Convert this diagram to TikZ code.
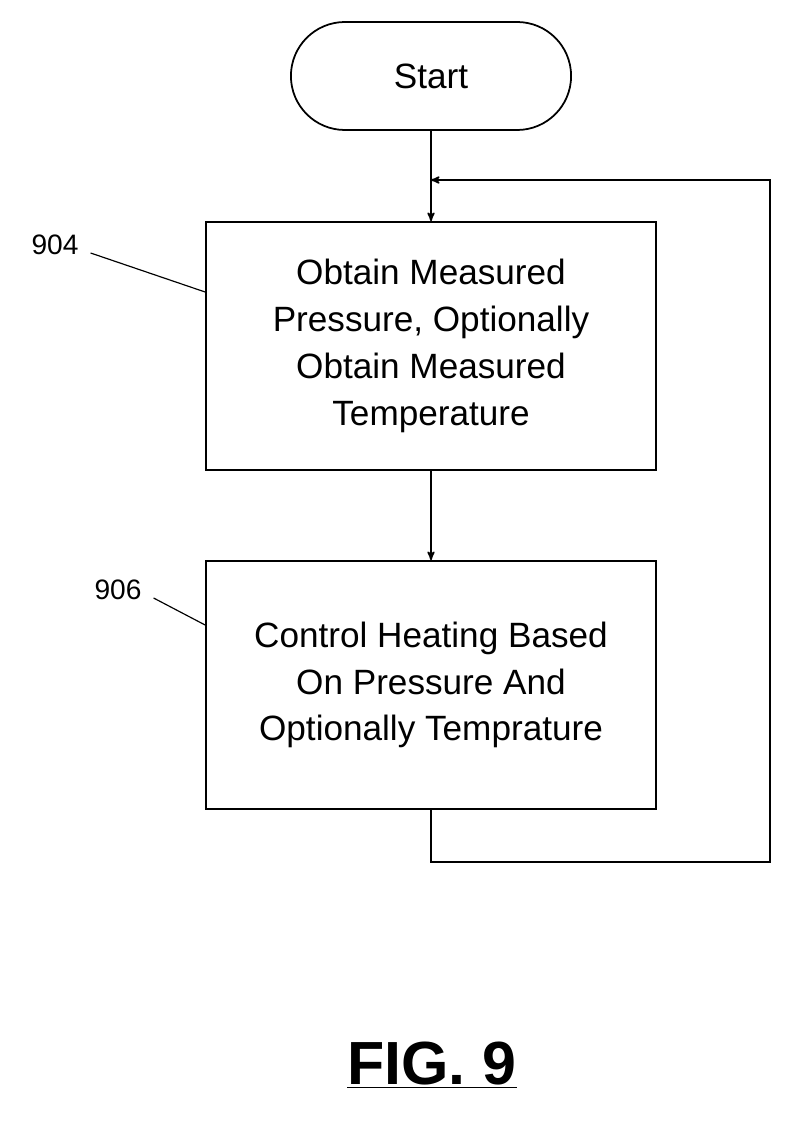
\documentclass[tikz,border=0pt]{standalone}
\usepackage{fontspec}
\setmainfont{Liberation Sans}
\usetikzlibrary{positioning}
\usetikzlibrary{arrows}
\usetikzlibrary{shapes.misc}
\tikzset{
    stepbox/.style={
        draw,
        line width=1.5pt,
        minimum width=13.5cm,
        minimum height=7.44cm,
        align=center,
        font=\fontsize{30}{40}\selectfont},
    terminal/.style={
        draw,
        line width=1.5pt,
        rounded rectangle,
        minimum width=8.64cm,
        minimum height=3.24cm,
        font=\fontsize{30}{40}\selectfont},
    flow/.style={
        draw,
        line width=1.5pt,
        ->,>=stealth'},
    ref/.style={font=\fontsize{24}{28}\selectfont}}
\begin{document}
\begin{tikzpicture}[x=0.03cm,y=-0.03cm]
        \useasboundingbox (0,0) rectangle (793,1129);
        \node[terminal] (start) at (431,76) {Start};
        \node[stepbox] (obtain) at (431,346) {Obtain Measured\\Pressure, Optionally\\Obtain Measured\\Temperature};
        \node[stepbox] (heat) at (431,685) {Control Heating Based\\On Pressure And\\Optionally Temprature};

        \coordinate (back) at (431,180);
        \coordinate (low) at (431,862);
        \coordinate (lowright) at (770,862);
        \coordinate (upright) at (770,180);

        \draw[flow] (start) -- (obtain);
        \draw[flow] (obtain) -- (heat);
        \draw[flow] (heat.south) -- (low) -- (lowright) -- (upright) -- (back);

        % reference numerals
        \node[ref] (n904) at (55,245) {904};
        \node[ref] (n906) at (118,590) {906};
        \draw[line width=1pt] (n904.east) ++(8,8) coordinate (a1) -- (obtain.west |- 0,292);
        \draw[line width=1pt] (n906.east) ++(8,8) coordinate (b1) -- (heat.west |- 0,625);

        \node[font=\bfseries\fontsize{52}{60}\selectfont] (fig) at (432,1065) {\underline{FIG. 9}};
    \end{tikzpicture}
\end{document}
